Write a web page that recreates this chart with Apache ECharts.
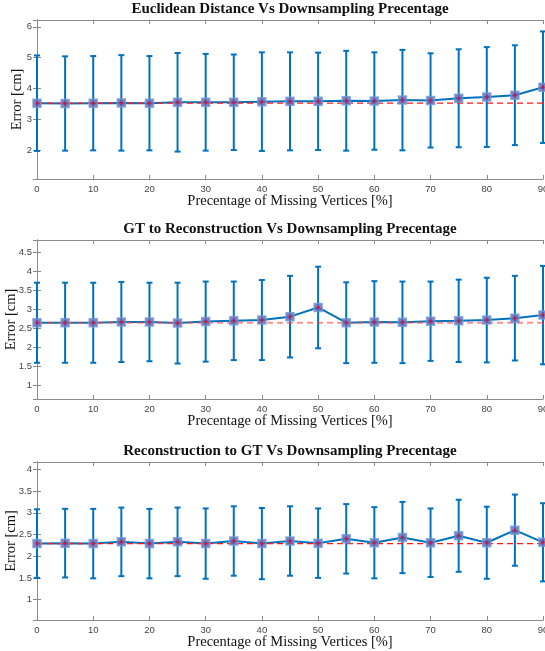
<!DOCTYPE html>
<html>
<head>
<meta charset="utf-8">
<script src="https://cdn.jsdelivr.net/npm/echarts@6/dist/echarts.min.js"></script>
<style>
html, body { margin: 0; padding: 0; background: #fff; }
#chart { width: 545px; height: 651px; }
</style>
</head>
<body>
<div id="chart"></div>
<script>
// percentage of missing vertices
const pct = [0, 5, 10, 15, 20, 25, 30, 35, 40, 45, 50, 55, 60, 65, 70, 75, 80, 85, 90];

// Euclidean distance: mean and half-length of the error bar
const euclidMean = [3.52, 3.51, 3.52, 3.53, 3.52, 3.55, 3.55, 3.55, 3.57, 3.58, 3.58, 3.60, 3.59, 3.62, 3.61, 3.68, 3.72, 3.78, 4.04];
const euclidErr = [1.55, 1.53, 1.53, 1.55, 1.53, 1.60, 1.57, 1.55, 1.60, 1.59, 1.58, 1.62, 1.58, 1.63, 1.53, 1.59, 1.62, 1.62, 1.81];

// GT to reconstruction
const gtRecMean = [2.65, 2.65, 2.65, 2.67, 2.67, 2.64, 2.68, 2.70, 2.72, 2.81, 3.05, 2.65, 2.67, 2.66, 2.69, 2.70, 2.72, 2.77, 2.85];
const gtRecErr = [1.05, 1.05, 1.05, 1.05, 1.03, 1.06, 1.05, 1.03, 1.05, 1.07, 1.07, 1.06, 1.07, 1.07, 1.04, 1.08, 1.11, 1.11, 1.29];

// reconstruction to GT
const recGtMean = [2.29, 2.30, 2.29, 2.33, 2.29, 2.33, 2.29, 2.35, 2.29, 2.35, 2.30, 2.40, 2.31, 2.43, 2.31, 2.47, 2.31, 2.60, 2.32];
const recGtErr = [0.79, 0.79, 0.80, 0.79, 0.80, 0.79, 0.81, 0.80, 0.82, 0.80, 0.80, 0.80, 0.82, 0.82, 0.79, 0.83, 0.83, 0.82, 0.90];

// dashed reference level (value at 0%)
const baseline = [3.52, 2.65, 2.29];

const titles = [
    "Euclidean Distance Vs Downsampling Precentage",
    "GT to Reconstruction Vs Downsampling Precentage",
    "Reconstruction to GT Vs Downsampling Precentage"
];
const xName = "Precentage of Missing Vertices [%]";
const yName = "Error [cm]";

const panels = [
    { mean: euclidMean, err: euclidErr, top: 20, height: 159, yMin: 1.06, yMax: 6.22, split: 5, yGap: 12,
      refColor: "#ff1a1a", refWidth: 1.2 },
    { mean: gtRecMean, err: gtRecErr, top: 240, height: 159, yMin: 0.65, yMax: 4.82, split: 8, yGap: 18,
      refColor: "rgba(255,70,70,0.6)", refWidth: 2 },
    { mean: recGtMean, err: recGtErr, top: 462, height: 158, yMin: 0.53, yMax: 4.17, split: 8, yGap: 18,
      refColor: "#ff1a1a", refWidth: 1.2 }
];

const blue = "#0072BD";
const axisColor = "#8a8a8a";
const serif = "'Liberation Serif', 'DejaVu Serif', serif";
const sans = "'Liberation Sans', Arial, sans-serif";

let errorBarItem = (params, api) => {
    const x = api.value(0);
    const top = api.coord([x, api.value(2)]);
    const bot = api.coord([x, api.value(1)]);
    const w = 3;
    const style = { stroke: blue, lineWidth: 2 };
    return {
        type: "group",
        children: [
            { type: "line", shape: { x1: top[0], y1: top[1], x2: bot[0], y2: bot[1] }, style },
            { type: "line", shape: { x1: top[0] - w, y1: top[1], x2: top[0] + w, y2: top[1] }, style },
            { type: "line", shape: { x1: bot[0] - w, y1: bot[1], x2: bot[0] + w, y2: bot[1] }, style }
        ]
    };
};

let buildOption = () => {
    const option = {
        animation: false,
        backgroundColor: "#fff",
        title: [], grid: [], xAxis: [], yAxis: [], series: []
    };

    panels.forEach((p, i) => {
        option.title.push({
            text: titles[i], left: 290, textAlign: "center", top: p.top - 18, padding: 0,
            textStyle: { fontFamily: serif, fontWeight: "bold", fontSize: 15, color: "#111" }
        });
        option.grid.push({
            left: 37, right: 2, top: p.top, height: p.height,
            containLabel: false, outerBoundsMode: "none"
        });

        const tick = { show: true, inside: true, length: 4, lineStyle: { color: axisColor } };
        const line = { show: true, lineStyle: { color: axisColor, width: 1 } };

        option.xAxis.push({
            type: "value", gridIndex: i, min: 0, max: 90, interval: 10, position: "bottom",
            axisLine: line, axisTick: tick, splitLine: { show: false },
            axisLabel: { margin: 5, fontFamily: sans, fontSize: 9.5, color: "#444" },
            name: xName, nameLocation: "middle", nameGap: 15, nameMoveOverlap: false,
            nameTextStyle: { fontFamily: serif, fontSize: 14.5, color: "#111" }
        });
        option.xAxis.push({
            type: "value", gridIndex: i, min: 0, max: 90, interval: 10, position: "top",
            axisLine: line, axisTick: tick, splitLine: { show: false }, axisLabel: { show: false }
        });
        option.yAxis.push({
            type: "value", gridIndex: i, min: p.yMin, max: p.yMax, splitNumber: p.split, position: "left",
            axisLine: line, axisTick: tick, splitLine: { show: false },
            axisLabel: { margin: 5, fontFamily: sans, fontSize: 9.5, color: "#444", showMinLabel: false, showMaxLabel: false },
            name: yName, nameLocation: "middle", nameRotate: 90, nameGap: p.yGap, nameMoveOverlap: false,
            nameTextStyle: { fontFamily: serif, fontSize: 14.5, color: "#111" }
        });
        option.yAxis.push({
            type: "value", gridIndex: i, min: p.yMin, max: p.yMax, splitNumber: p.split, position: "right",
            axisLine: line, axisTick: tick, splitLine: { show: false }, axisLabel: { show: false }
        });

        const xi = i * 2, yi = i * 2;
        const pts = pct.map((x, k) => [x, p.mean[k]]);

        option.series.push({
            type: "custom", xAxisIndex: xi, yAxisIndex: yi, z: 2, clip: false,
            renderItem: errorBarItem,
            data: pct.map((x, k) => [x, p.mean[k] - p.err[k], p.mean[k] + p.err[k]])
        });
        option.series.push({
            type: "line", xAxisIndex: xi, yAxisIndex: yi, z: 3, showSymbol: false,
            lineStyle: { color: blue, width: 2 }, data: pts
        });
        option.series.push({
            type: "line", xAxisIndex: xi, yAxisIndex: yi, z: 4, showSymbol: false,
            lineStyle: { color: p.refColor, width: p.refWidth, type: [6, 4] },
            data: [[pct[0], baseline[i]], [pct[pct.length - 1], baseline[i]]]
        });
        option.series.push({
            type: "scatter", xAxisIndex: xi, yAxisIndex: yi, z: 5, symbol: "rect", symbolSize: 8,
            itemStyle: { color: "#6e5eab", borderColor: "#6f9bd8", borderWidth: 1.5 }, data: pts
        });
        option.series.push({
            type: "scatter", xAxisIndex: xi, yAxisIndex: yi, z: 6, symbol: "circle", symbolSize: 3,
            itemStyle: { color: "#d01030" }, data: pts
        });
    });
    return option;
};

let init = () => {
    const chart = echarts.init(document.querySelector("#chart"), null, { renderer: "canvas" });
    chart.setOption(buildOption());
    window.onresize = () => { chart.resize() };
};

init();
</script>
</body>
</html>
